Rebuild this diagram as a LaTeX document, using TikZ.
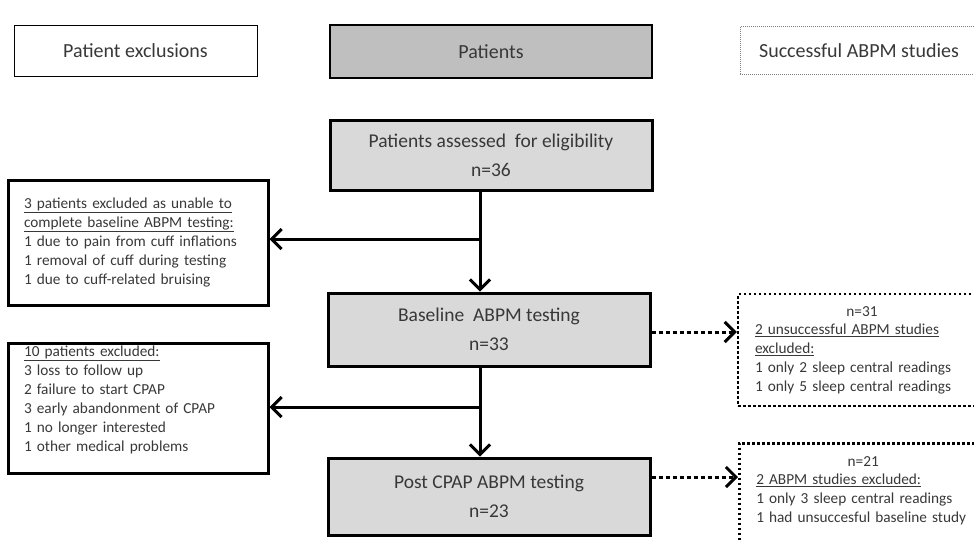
\documentclass[tikz,border=0pt]{standalone}
\usepackage{fontspec}
\setmainfont{Carlito}
\usetikzlibrary{positioning,arrows.meta}

\definecolor{txtgray}{HTML}{383838}
\definecolor{boxfill}{HTML}{D9D9D9}
\definecolor{hdrfill}{HTML}{BFBFBF}

\begin{document}
\begin{tikzpicture}[x=1pt, y=-1pt, text=txtgray,
    hdrbox/.style={draw, line width=1pt, minimum height=51pt, font=\fontsize{20}{24}\selectfont},
    mainbox/.style={draw, line width=3pt, fill=boxfill, minimum width=322pt, align=center, font=\fontsize{19.5}{29}\selectfont},
    exclbox/.style={draw, line width=3pt, align=left, text width=228pt, inner xsep=16pt, font=\fontsize{15.3}{19}\selectfont},
    studybox/.style={draw, line width=2.5pt, dash pattern=on 2.5pt off 2.5pt, align=left, text width=214pt, inner xsep=17pt, minimum width=248pt, font=\fontsize{15.3}{18.75}\selectfont},
    arr/.style={line width=3pt, -{Straight Barb[length=10pt, width=20pt]}},
    dotarr/.style={arr, dash pattern=on 4pt off 3pt}]
    \useasboundingbox (0,0) rectangle (974,542);
    \clip (0,0) rectangle (974,542);

    % Column headers
    \node[hdrbox, minimum width=243pt] (hexcl) at (135.5,50.5) {Patient exclusions};
    \node[hdrbox, fill=hdrfill, line width=1.3pt, minimum width=322pt, minimum height=53pt] (hpat) at (491,51.5) {Patients};
    \node[hdrbox, draw=gray, dash pattern=on 1pt off 1pt, minimum width=238pt, minimum height=48pt] (hstudy) at (859,50.5) {Successful ABPM studies};

    % Patient flow
    \node[mainbox, minimum height=70pt] (elig) at (491,155) {Patients assessed\ \ for eligibility\\ n=36};
    \node[mainbox, minimum height=73pt] (base) at (489,329.5) {Baseline\ \ ABPM testing\\ n=33};
    \node[mainbox, minimum height=77pt] (post) at (489,496.5) {Post CPAP ABPM testing\\ n=23};

    % Exclusions
    \node[exclbox, minimum height=125pt] (excl1) at (138,242.5) {\underline{3 patients excluded as unable to}\\ \underline{complete baseline ABPM testing:}\\ 1 due to pain from cuff inflations\\ 1 removal of cuff during testing\\ 1 due to cuff-related bruising};
    \node[exclbox, minimum height=130pt, inner ysep=2pt] (excl2) at (138,408) {\underline{10 patients excluded:}\\ 3 loss to follow up\\ 2 failure to start CPAP\\ 3 early abandonment of CPAP\\ 1 no longer interested\\ 1 other medical problems\\ \mbox{}};

    % Successful studies
    \node[studybox, minimum height=112pt] (study1) at (862,350) {\makebox[214pt]{n=31}\\ \underline{2 unsuccessful ABPM studies}\\ \underline{excluded:}\\ 1 only 2 sleep central readings\\ 1 only 5 sleep central readings};
    \node[studybox, anchor=north west, inner ysep=13pt] (study2) at (738,442) {\makebox[214pt]{n=21}\\ \underline{2 ABPM studies excluded:}\\ 1 only 3 sleep central readings\\ 1 had unsuccesful baseline study\\ \mbox{}\\ \mbox{}};

    % Arrows
    \coordinate (j1) at (480,239);
    \coordinate (j2) at (480,407);
    \draw[arr] (elig.south -| j1) -- (base.north -| j1);
    \draw[arr] (j1) -- (excl1.east |- j1);
    \draw[arr] (base.south -| j2) -- (post.north -| j2);
    \draw[arr] (j2) -- (excl2.east |- j2);
    \draw[dotarr] ([yshift=-2.5pt]base.east) -- ([yshift=-2.5pt]base.east -| study1.west);
    \draw[dotarr] ([yshift=19.5pt]post.east) -- ([yshift=19.5pt]post.east -| study2.west);
\end{tikzpicture}
\end{document}
